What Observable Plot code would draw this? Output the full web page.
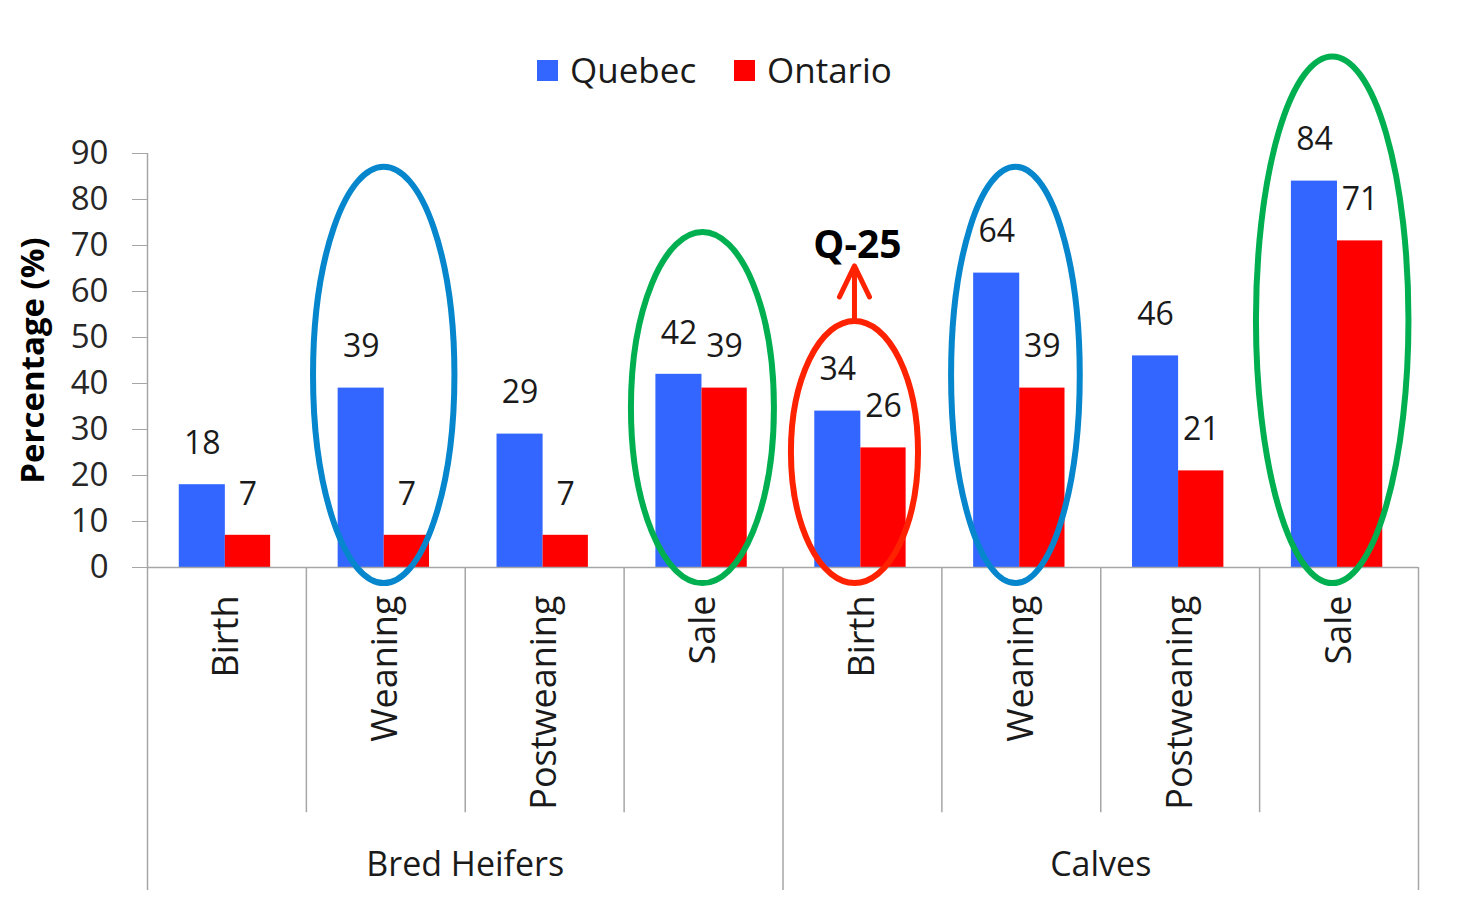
<!DOCTYPE html>
<html>
<head>
<meta charset="utf-8">
<script src="https://cdn.jsdelivr.net/npm/d3@7"></script>
<script src="https://cdn.jsdelivr.net/npm/@observablehq/plot@0.6"></script>
<style>
  body { margin: 0; background: #fff; font-family: "Open Sans", sans-serif; }
  #legend { position: relative; width: 1460px; height: 110px; }
  .item { position: absolute; top: 50px; height: 40px; display: flex; align-items: center; font-size: 35px; color: #1a1a1a; line-height: 40px; }
  .sw { width: 21px; height: 21px; margin-right: 12px; }
  #chart svg { display: block; }
</style>
</head>
<body>
<div id="legend"></div>
<div id="chart"></div>
<script>
// ---- data ----
const groups = ["Bred Heifers", "Calves"];
const stages = ["Birth", "Weaning", "Postweaning", "Sale"];
const seriesNames = ["Quebec", "Ontario"];
const quebec = [18, 39, 29, 42, 34, 64, 46, 84];
const ontario = [7, 7, 7, 39, 26, 39, 21, 71];
const yTicks = [0, 10, 20, 30, 40, 50, 60, 70, 80, 90];

// highlighted categories (annotation rings), by slot index
const highlightSlots = [1, 3, 4, 5, 7];
const highlightKinds = ["blue", "green", "red", "blue", "green"];
const calloutText = "Q-25";
const calloutSlot = 4;

// ---- styles / layout config ----
const seriesColors = ["#3366FF", "#FF0000"];
const ringColors = {blue: "#0586CD", green: "#00B050", red: "#FF2200"};
const axisGray = "#A6A6A6";
const barSpan = {Quebec: [0.2, 0.49], Ontario: [0.49, 0.775]};
// ring geometry in data units: [centre offset, width (slots), top value, bottom value]
const ringGeom = [
  [-0.01, 0.89, 87, -3.5],
  [-0.004, 0.90, 72.8, -3.5],
  [-0.047, 0.80, 53.5, -3.5],
  [-0.034, 0.81, 87, -3.5],
  [-0.04, 0.96, 111, -3.5]
];
const lowerEdge = -70.2;     // bottom of category axis box
const stageRuleEnd = -53.3;  // end of inner separators

// ---- build table ----
const rows = [];
groups.forEach((g, gi) => stages.forEach((s, si) => {
  const slot = gi * stages.length + si;
  rows.push({group: g, stage: s, slot, series: "Quebec", value: quebec[slot]});
  rows.push({group: g, stage: s, slot, series: "Ontario", value: ontario[slot]});
}));
const stageRows = rows.filter(d => d.series === "Quebec");
const groupRows = groups.map((g, gi) => ({group: g, mid: gi * stages.length + stages.length / 2}));
const stageBounds = d3.range(1, groups.length * stages.length).filter(i => i % stages.length !== 0);
const groupBounds = d3.range(1, groups.length + 1).map(i => i * stages.length);

// ---- legend ----
const legend = document.getElementById("legend");
const legendLeft = [537, 734];
seriesNames.forEach((name, i) => {
  const it = document.createElement("div");
  it.className = "item";
  it.style.left = legendLeft[i] + "px";
  it.innerHTML = `<span class="sw" style="background:${seriesColors[i]}"></span><span>${name}</span>`;
  legend.appendChild(it);
});

// ---- annotation layer (rings + arrow) ----
function annotations(index, scales) {
  const {x, y} = scales;
  const g = d3.create("svg:g").attr("fill", "none");
  highlightSlots.forEach((slot, k) => {
    const [off, w, top, bottom] = ringGeom[k];
    const cxv = slot + 0.5 + off;
    const cx = x(cxv);
    const rx = (x(cxv + w / 2) - x(cxv - w / 2)) / 2;
    const yTop = y(top), yBot = y(bottom);
    g.append("ellipse")
      .attr("cx", cx).attr("cy", (yTop + yBot) / 2)
      .attr("rx", rx).attr("ry", (yBot - yTop) / 2)
      .attr("stroke", ringColors[highlightKinds[k]])
      .attr("stroke-width", 6);
  });
  // arrow from the red ring to the callout
  const k = highlightSlots.indexOf(calloutSlot);
  const [off, w, top] = ringGeom[k];
  const ax = x(calloutSlot + 0.5 + off);
  const yStart = y(top), yTip = y(top) - 55;
  g.append("path")
    .attr("d", `M${ax},${yStart}L${ax},${yTip}M${ax - 15},${yTip + 31}L${ax},${yTip}L${ax + 15},${yTip + 31}`)
    .attr("stroke", ringColors.red).attr("stroke-width", 5)
    .attr("stroke-linecap", "round").attr("stroke-linejoin", "round");
  // callout text
  g.append("text")
    .attr("x", ax + 3).attr("y", yTip - 22)
    .attr("text-anchor", "middle").attr("dy", "0.35em")
    .attr("fill", "#000").attr("font-weight", "bold").attr("font-size", 39)
    .text(calloutText);
  return g.node();
}

const chart = Plot.plot({
  width: 1460,
  height: 797,
  marginTop: 43,
  marginBottom: 340,
  marginLeft: 147,
  marginRight: 42,
  x: {domain: [0, groups.length * stages.length], axis: null},
  y: {domain: [0, 90]},
  color: {domain: seriesNames, range: seriesColors},
  style: {fontFamily: '"Open Sans", sans-serif', background: "white", overflow: "visible", color: "#1a1a1a"},
  marks: [
    Plot.rectY(rows, {
      x1: d => d.slot + barSpan[d.series][0],
      x2: d => d.slot + barSpan[d.series][1],
      y1: 0, y2: "value", fill: "series"
    }),
    Plot.ruleY([0], {x1: 0, x2: groups.length * stages.length, stroke: axisGray, strokeWidth: 1.5}),
    Plot.ruleX([0], {y1: lowerEdge, y2: 90, stroke: axisGray, strokeWidth: 1.5}),
    Plot.ruleX(stageBounds, {y1: 0, y2: stageRuleEnd, stroke: axisGray, strokeWidth: 1.5}),
    Plot.ruleX(groupBounds, {y1: 0, y2: lowerEdge, stroke: axisGray, strokeWidth: 1.5}),
    Plot.axisY({ticks: yTicks, tickSize: 15, tickPadding: 24, fontSize: 33, stroke: axisGray, fill: "#262626", label: null}),
    Plot.text(stageRows, {
      x: d => d.slot + 0.5, y: 0, text: "stage", rotate: -90, textAnchor: "end",
      dy: 28, fontSize: 36, fill: "#1a1a1a"
    }),
    Plot.text(groupRows, {x: "mid", y: 0, text: "group", dy: 298, fontSize: 34, fill: "#1a1a1a"}),
    annotations,
    Plot.text(rows, {
      x: d => d.slot + (barSpan[d.series][0] + barSpan[d.series][1]) / 2,
      y: "value", text: d => String(d.value), dy: -41, fontSize: 32, fill: "#1a1a1a"
    }),
    Plot.text(["Percentage (%)"], {
      frameAnchor: "left", text: d => d, rotate: -90, dx: -114, textAnchor: "middle",
      fontSize: 33, fontWeight: "bold", fill: "#000"
    })
  ]
});
document.getElementById("chart").appendChild(chart);
</script>
</body>
</html>
